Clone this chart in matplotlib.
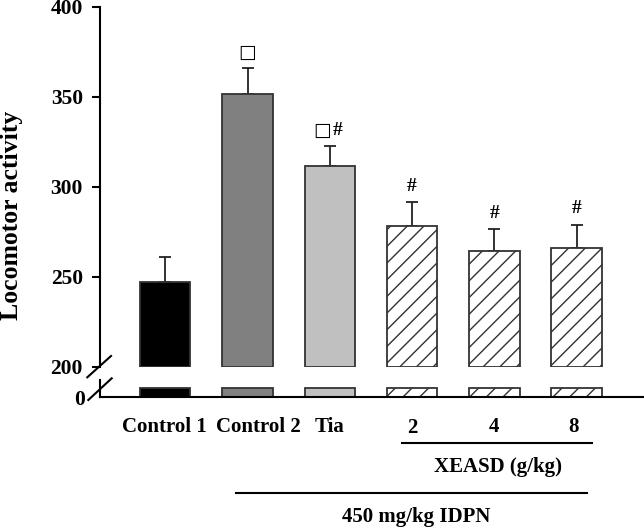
import matplotlib
matplotlib.use("Agg")
import matplotlib.pyplot as plt
from matplotlib.lines import Line2D
from matplotlib.transforms import ScaledTranslation

plt.rcParams['font.family'] = ['Liberation Serif', 'DejaVu Serif']
plt.rcParams['font.weight'] = 'bold'
plt.rcParams['hatch.linewidth'] = 1.0

groups = ["Control 1", "Control 2", "Tia", "2", "4", "8"]
means = [247, 351.5, 311.5, 278, 264.5, 266]
sems = [14, 14.5, 11, 13.5, 12, 13]
marks = ["", "\u25a1", "\u25a1#", "#", "#", "#"]
colors = ["#000000", "#808080", "#c0c0c0", "white", "white", "white"]
hatches = [None, None, None, "//", "//", "//"]
yticks_top = [200, 250, 300, 350, 400]
stub = 5  # height of the broken-bar stub drawn on the lower axis

W, H = 644, 527
fig = plt.figure(figsize=(W / 100, H / 100), dpi=100)

def fx(px):
    return px / W

def fy(py):
    return 1 - py / H

left = fx(99.5)
ax = fig.add_axes([left, fy(366.7), 1 - left, fy(6.7) - fy(366.7)])
axb = fig.add_axes([left, fy(397.3), 1 - left, fy(380) - fy(397.3)])

x = list(range(len(groups)))
step = 82.3
xlim = ((99.5 - 165.2) / step, (644 - 165.2) / step)
ec = "#333333"
for i in x:
    ax.bar(i, means[i] - 200, bottom=200, width=0.614, color=colors[i],
           edgecolor=ec, linewidth=1.3, hatch=hatches[i], zorder=2)
    axb.bar(i, stub, width=0.614, color=colors[i], edgecolor=ec,
            linewidth=1.3, hatch=hatches[i], zorder=2)
    ax.errorbar(i, means[i], yerr=[[0], [sems[i]]], fmt="none", ecolor="#222222",
                elinewidth=1.3, capsize=4.3, capthick=1.3, zorder=1)

# significance marks
for i in x:
    m = marks[i]
    if not m:
        continue
    y = means[i] + sems[i] + 8.8
    if m == "\u25a1":
        ax.text(i, y, m, ha="center", va="center", fontsize=13.5,
                family=['DejaVu Sans'], fontweight='normal')
    elif m == "\u25a1#":
        ax.text(i, y, "\u25a1", ha="right", va="center", fontsize=13.5,
                family=['DejaVu Sans'], fontweight='normal',
                transform=ax.transData + ScaledTranslation(1.0 / 72, 0, fig.dpi_scale_trans))
        ax.text(i, y, "#", ha="left", va="center", fontsize=14, fontweight='bold',
                transform=ax.transData + ScaledTranslation(2.0 / 72, 0, fig.dpi_scale_trans))
    else:
        ax.text(i, y, m, ha="center", va="center", fontsize=14, fontweight='bold')

ax.set_xlim(*xlim)
axb.set_xlim(*xlim)
ax.set_ylim(200, 400)
axb.set_ylim(0, 9.6)
ax.set_yticks(yticks_top)
axb.set_yticks([0])
ax.set_xticks([])
for a in (ax, axb):
    a.spines['top'].set_visible(False)
    a.spines['right'].set_visible(False)
    a.spines['left'].set_linewidth(1.5)
    a.tick_params(axis='y', direction='out', length=6, width=1.5, labelsize=15.5, pad=6)
    for lab in a.get_yticklabels():
        lab.set_fontweight('bold')
axb.tick_params(axis='y', length=0, pad=10.5)
ax.spines['bottom'].set_visible(False)
axb.spines['bottom'].set_linewidth(1.5)
axb.set_xticks(x)
axb.set_xticklabels(groups, fontsize=15, fontweight='bold')
axb.tick_params(axis='x', length=0, pad=14)
# per-label nudges (pixels) to match the original layout
nudges = [(-1, 0), (10.5, 0), (0, 0), (0, -1.5), (0, 0), (-3, 0)]
for lab, (dx, dy) in zip(axb.get_xticklabels(), nudges):
    lab.set_transform(lab.get_transform() + ScaledTranslation(dx / 100, dy / 100, fig.dpi_scale_trans))

ax.set_ylabel("Locomotor activity", fontsize=18.5, fontweight='bold')
ax.yaxis.set_label_coords((23 - 99.5) / 544.5, (366.7 - 215) / 360)

# break marks
for (x0, y0, x1, y1) in [(87.3, 377.3, 111, 356), (88.3, 400, 111.7, 378.3)]:
    fig.add_artist(Line2D([fx(x0), fx(x1)], [fy(y0), fy(y1)], color="black", lw=1.5))

# group lines and labels
fig.add_artist(Line2D([fx(401.7), fx(592)], [fy(442.7), fy(442.7)], color="black", lw=1.5))
fig.text(fx(498), fy(466.7), "XEASD (g/kg)", ha="center", va="center", fontsize=15, fontweight='bold')
fig.add_artist(Line2D([fx(236), fx(586.7)], [fy(492.7), fy(492.7)], color="black", lw=1.5))
fig.text(fx(416), fy(516.7), "450 mg/kg IDPN", ha="center", va="center", fontsize=15, fontweight='bold')

fig.savefig("out.png", dpi=100)
